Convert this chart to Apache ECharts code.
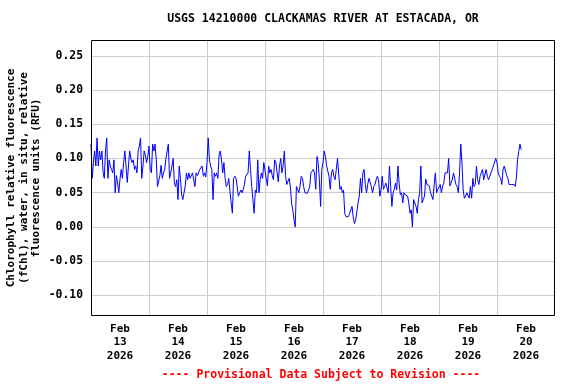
<!DOCTYPE html>
<html><head><meta charset="utf-8">
<script src="https://cdn.jsdelivr.net/npm/echarts@6/dist/echarts.min.js"></script>
<style>html,body{margin:0;padding:0;background:#fff}#c{width:576px;height:384px}</style>
</head><body><div id="c"></div>
<script>
const titleText = 'USGS 14210000 CLACKAMAS RIVER AT ESTACADA, OR';
const yNameLines = ['Chlorophyll relative fluorescence', '(fChl), water, in situ, relative', 'fluorescence units (RFU)'];
const footerText = '---- Provisional Data Subject to Revision ----';
// x axis: hours since Feb 12 2026 12:00
const dayLabelHours = [12, 36, 60, 84, 108, 132, 156, 180];
const dayLabels = ['Feb\n13\n2026', 'Feb\n14\n2026', 'Feb\n15\n2026', 'Feb\n16\n2026', 'Feb\n17\n2026', 'Feb\n18\n2026', 'Feb\n19\n2026', 'Feb\n20\n2026'];
const xMinHours = 0, xMaxHours = 192;
const yMin = -0.13, yMax = 0.273;
const seriesStartHour = 0;
const stepHours = 0.5;
const values1 = [0.121,0.071,0.094,0.111,0.089,0.130,0.089,0.111,0.098,0.111,
0.080,0.071,0.111,0.130,0.071,0.098,0.089,0.084,0.079,0.098,
0.050,0.075,0.064,0.050,0.070,0.084,0.071,0.094,0.111,0.089,
0.065,0.089,0.111,0.100,0.094,0.098,0.084,0.089,0.079,0.111,
0.118,0.130,0.071,0.089,0.111,0.105,0.094,0.103,0.118,0.084,
0.079,0.121,0.111,0.121,0.098,0.059,0.059,0.075,0.090];
const values2 = [0.071,0.079,0.084,0.100,0.098,0.121,0.071,0.079,0.089,0.100,
0.064,0.059,0.069,0.040,0.089,0.071,0.047,0.040,0.050,0.060,
0.079,0.069,0.079,0.071,0.071,0.079,0.079,0.059,0.079,0.075,
0.074,0.084,0.084,0.089,0.074,0.079,0.073,0.094,0.130,0.098,
0.089,0.084,0.040,0.079,0.074,0.079,0.071,0.105,0.111,0.098,
0.079,0.094,0.071,0.059,0.062,0.071,0.052,0.035,0.020,0.071];
const values3 = [0.074,0.071,0.071,0.045,0.050,0.054,0.050,0.055,0.062,0.074,
0.074,0.079,0.111,0.084,0.059,0.060,0.020,0.054,0.050,0.098,
0.050,0.069,0.079,0.071,0.094,0.094,0.071,0.060,0.089,0.079,
0.084,0.075,0.069,0.098,0.094,0.079,0.066,0.089,0.100,0.079,
0.089,0.111,0.075,0.062,0.062,0.071,0.059,0.035,0.025,0.010,
0.000,0.059,0.055,0.050,0.060,0.074,0.071,0.059,0.050,0.050];
const values4 = [0.049,0.054,0.059,0.079,0.079,0.084,0.079,0.055,0.103,0.094,
0.069,0.030,0.084,0.094,0.111,0.103,0.089,0.089,0.074,0.055,
0.079,0.084,0.074,0.069,0.084,0.100,0.098,0.055,0.059,0.050,
0.054,0.020,0.015,0.015,0.015,0.020,0.025,0.030,0.015,0.005,
0.010,0.022,0.035,0.045,0.071,0.050,0.079,0.084,0.062,0.050,
0.062,0.071,0.069,0.059,0.050,0.059,0.062,0.069,0.074,0.069];
const values5 = [0.045,0.054,0.074,0.055,0.059,0.064,0.064,0.050,0.089,0.059,
0.030,0.050,0.055,0.064,0.054,0.089,0.064,0.047,0.050,0.035,
0.050,0.047,0.045,0.045,0.035,0.020,0.025,0.000,0.040,0.035,
0.030,0.020,0.040,0.050,0.089,0.035,0.040,0.045,0.070,0.062,
0.062,0.060,0.050,0.045,0.040,0.062,0.079,0.050,0.055,0.054,
0.062,0.050,0.060,0.064,0.079,0.079,0.079,0.100,0.060,0.062];
const values6 = [0.069,0.079,0.071,0.062,0.059,0.050,0.079,0.121,0.094,0.054,
0.042,0.045,0.050,0.050,0.042,0.059,0.042,0.071,0.059,0.062,
0.089,0.069,0.062,0.074,0.079,0.084,0.069,0.071,0.084,0.074,
0.069,0.071,0.079,0.084,0.089,0.089,0.100,0.094,0.079,0.074,
0.071,0.062,0.084,0.089,0.089,0.075,0.071,0.062,0.062,0.062,
0.062,0.062,0.059,0.071,0.098,0.110,0.121,0.113];

const allValues = [].concat(values1, values2, values3, values4, values5, values6);
const seriesData = allValues.map((v, i) => [seriesStartHour + i * stepHours, v]);

const FONT = 'DejaVu Sans Mono';
const chart = echarts.init(document.getElementById('c'), null, {renderer: 'canvas'});
chart.setOption({
  animation: false,
  backgroundColor: '#ffffff',
  grid: {left: 91, right: 21, top: 40, bottom: 68, show: false},
  xAxis: {
    type: 'value', min: xMinHours, max: xMaxHours, interval: 24,
    axisLine: {show: false}, axisTick: {show: false},
    splitLine: {show: true, showMinLine: false, showMaxLine: false, lineStyle: {color: '#cccccc', width: 1}},
    axisLabel: {
      customValues: dayLabelHours,
      formatter: (v) => { const k = dayLabelHours.indexOf(v); return k >= 0 ? dayLabels[k] : ''; },
      fontFamily: FONT, fontWeight: 'bold', fontSize: 11, color: '#000', lineHeight: 13.5, margin: 6
    }
  },
  yAxis: {
    type: 'value', min: yMin, max: yMax, splitNumber: 8,
    axisLine: {show: false}, axisTick: {show: false},
    splitLine: {show: true, showMinLine: false, showMaxLine: false, lineStyle: {color: '#cccccc', width: 1}},
    axisLabel: {
      showMinLabel: false, showMaxLabel: false,
      formatter: (v) => v.toFixed(2),
      fontFamily: FONT, fontWeight: 'bold', fontSize: 11.4, color: '#000', margin: 8
    }
  },
  series: [{
    type: 'line', data: seriesData, showSymbol: false, symbol: 'none',
    lineStyle: {color: '#0000ff', width: 1}, z: 3
  }],
  graphic: [
    {type: 'rect', z: 100, shape: {x: 91.5, y: 40.5, width: 463, height: 275}, style: {fill: 'none', stroke: '#000', lineWidth: 1}},
    {type: 'text', x: 323, y: 19, style: {text: titleText, font: 'bold 11.5px "DejaVu Sans Mono"', fill: '#000', align: 'center', verticalAlign: 'middle'}},
    {type: 'text', x: 321, y: 375, style: {text: footerText, font: 'bold 11.5px "DejaVu Sans Mono"', fill: '#ff0000', align: 'center', verticalAlign: 'middle'}},
    {type: 'text', x: 24, y: 178, rotation: Math.PI / 2, style: {text: yNameLines.join('\n'), font: 'bold 11px "DejaVu Sans Mono"', lineHeight: 12.4, fill: '#000', align: 'center', verticalAlign: 'middle'}}
  ]
});
</script>
</body></html>
